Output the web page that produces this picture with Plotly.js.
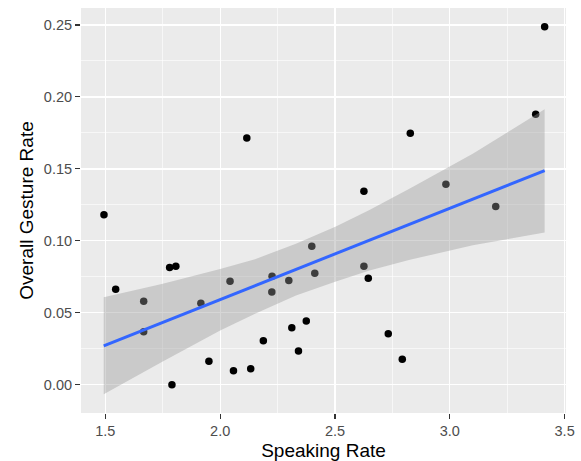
<!DOCTYPE html>
<html>
<head>
<meta charset="utf-8">
<script src="https://cdn.plot.ly/plotly-3.0.1.min.js"></script>
<style>html,body{margin:0;padding:0;background:#fff;}#chart{width:581px;height:461px;}</style>
</head>
<body>
<div id="chart"></div>
<script>
// Scatter data
const speakingRate = [1.494, 1.545, 1.667, 1.667, 1.780, 1.807, 1.790, 1.916, 1.951, 2.043,
  2.058, 2.116, 2.133, 2.188, 2.226, 2.225, 2.299, 2.312, 2.341, 2.375,
  2.399, 2.412, 2.626, 2.626, 2.645, 2.732, 2.793, 2.828, 2.983, 3.200,
  3.374, 3.413];
const gestureRate = [0.1182, 0.0664, 0.0581, 0.0368, 0.0815, 0.0824, 0.0000, 0.0567, 0.0164, 0.0720,
  0.0097, 0.1715, 0.0111, 0.0306, 0.0755, 0.0644, 0.0724, 0.0397, 0.0234, 0.0444,
  0.0963, 0.0775, 0.0824, 0.1345, 0.0741, 0.0354, 0.0178, 0.1748, 0.1394, 0.1238,
  0.1880, 0.2488];
// Fitted line
const fitX = [1.493, 3.413];
const fitY = [0.0271, 0.1488];
// Confidence band
const bandX = [1.493, 1.746, 2.0, 2.152, 2.33, 2.504, 2.65, 2.826, 3.1, 3.413];
const bandUpper = [0.0609, 0.0700, 0.0805, 0.0873, 0.0980, 0.1100, 0.1214, 0.1364, 0.1606, 0.1914];
const bandLower = [-0.0065, 0.0158, 0.0378, 0.0493, 0.0621, 0.0717, 0.0794, 0.0868, 0.0970, 0.1058];
// Tick labels
const xTicks = [1.5, 2.0, 2.5, 3.0, 3.5];
const xTickText = ["1.5", "2.0", "2.5", "3.0", "3.5"];
const yTicks = [0.00, 0.05, 0.10, 0.15, 0.20, 0.25];
const yTickText = ["0.00", "0.05", "0.10", "0.15", "0.20", "0.25"];

const font = "Liberation Sans, Arial, Helvetica, sans-serif";

const traces = [
  {
    type: "scatter", mode: "markers",
    x: speakingRate, y: gestureRate,
    marker: {color: "#000000", size: 7.5},
    hoverinfo: "x+y"
  },
  {
    type: "scatter", mode: "lines",
    x: bandX.concat(bandX.slice().reverse()),
    y: bandUpper.concat(bandLower.slice().reverse()),
    fill: "toself",
    fillcolor: "rgba(153,153,153,0.4)",
    line: {width: 0},
    hoverinfo: "skip"
  },
  {
    type: "scatter", mode: "lines",
    x: fitX, y: fitY,
    line: {color: "#3366FF", width: 3}
  }
];

const layout = {
  width: 581, height: 461,
  margin: {l: 81, r: 15, t: 8, b: 48, pad: 0},
  paper_bgcolor: "#FFFFFF",
  plot_bgcolor: "#EBEBEB",
  showlegend: false,
  font: {family: font},
  xaxis: {
    range: [1.394, 3.506],
    tickmode: "array", tickvals: xTicks, ticktext: xTickText,
    showgrid: true, gridcolor: "#FFFFFF", gridwidth: 1.2,
    minor: {tickmode: "linear", tick0: 1.25, dtick: 0.25, showgrid: true, gridcolor: "#FFFFFF", gridwidth: 0.6, ticks: ""},
    zeroline: false, showline: false,
    ticks: "outside", ticklen: 5, tickwidth: 1.1, tickcolor: "#333333",
    tickfont: {family: font, size: 14.5, color: "#4D4D4D"},
    title: {text: "Speaking Rate", font: {family: font, size: 19, color: "#000000"}, standoff: 5}
  },
  yaxis: {
    range: [-0.0196, 0.2618],
    tickmode: "array", tickvals: yTicks, ticktext: yTickText,
    showgrid: true, gridcolor: "#FFFFFF", gridwidth: 1.2,
    minor: {tickmode: "linear", tick0: 0.025, dtick: 0.05, showgrid: true, gridcolor: "#FFFFFF", gridwidth: 0.6, ticks: ""},
    zeroline: false, showline: false,
    ticks: "outside", ticklen: 5, tickwidth: 1.1, tickcolor: "#333333",
    tickfont: {family: font, size: 14.5, color: "#4D4D4D"},
    title: {text: "Overall Gesture Rate", font: {family: font, size: 19, color: "#000000"}, standoff: 5}
  }
};

Plotly.newPlot("chart", traces, layout, {displayModeBar: false, staticPlot: true});
</script>
</body>
</html>
